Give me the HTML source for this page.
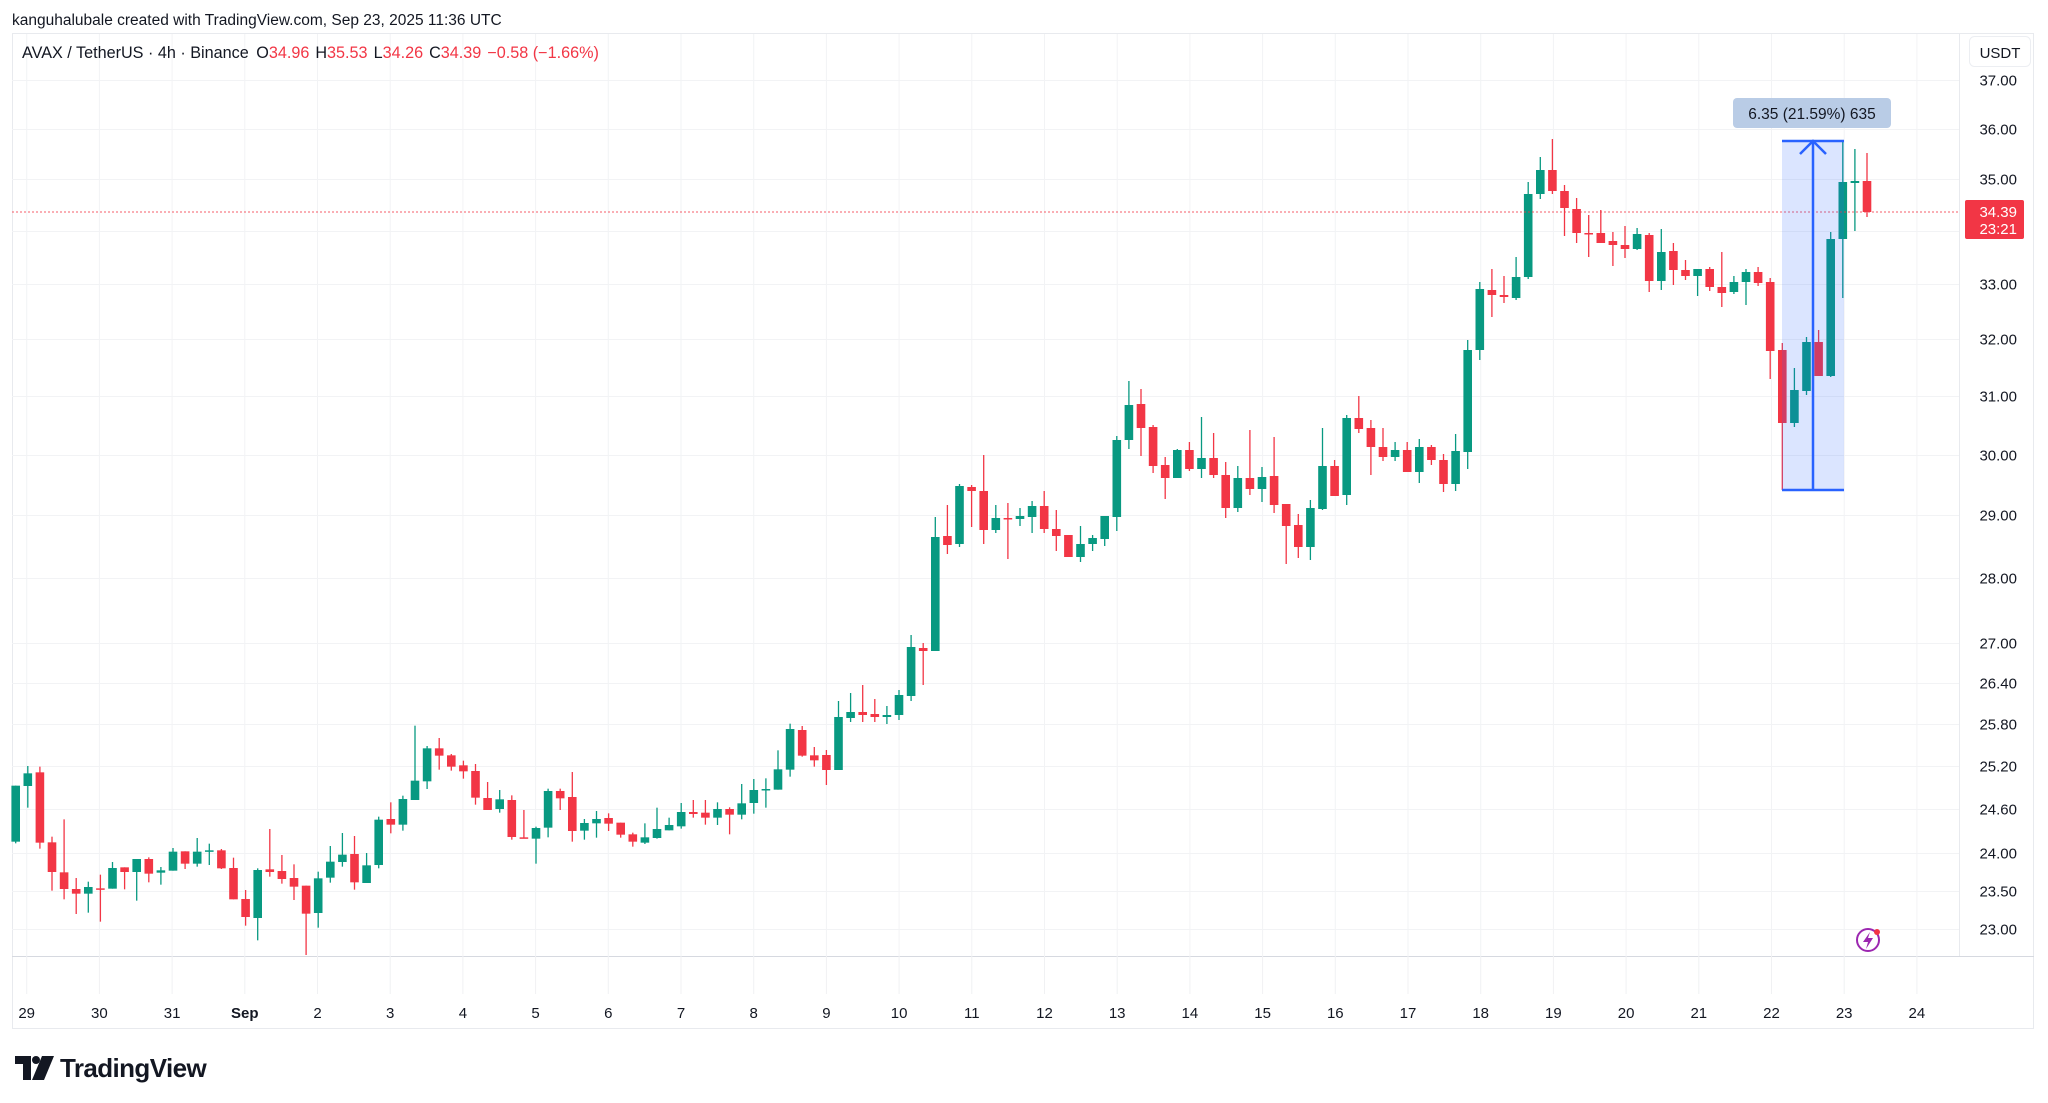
<!DOCTYPE html>
<html><head><meta charset="utf-8"><style>
html,body{margin:0;padding:0;background:#fff;}
body{width:2048px;height:1103px;overflow:hidden;font-family:"Liberation Sans",sans-serif;}
</style></head><body>
<svg id="s" width="2048" height="1103" xmlns="http://www.w3.org/2000/svg" style="position:absolute;left:0;top:0">
<text x="12" y="25" font-size="15.5" fill="#131722">kanguhalubale created with TradingView.com, Sep 23, 2025 11:36 UTC</text>
<rect x="12.5" y="33.5" width="2021" height="995" fill="none" stroke="#e8eaee"/>
<line x1="1959.5" y1="33" x2="1959.5" y2="956" stroke="#e8eaee"/>
<line x1="12" y1="956.5" x2="2034" y2="956.5" stroke="#d6d9e0"/>
<g id="grid"></g>
<g id="candles"></g>
<line x1="12" y1="212" x2="1959" y2="212" stroke="#f23645" stroke-width="1" stroke-dasharray="2,2" opacity="0.8"/>
<rect x="1782" y="141" width="62" height="349" fill="#2962ff" fill-opacity="0.17"/>
<line x1="1782" y1="141" x2="1844" y2="141" stroke="#2962ff" stroke-width="2.5"/>
<line x1="1782" y1="490" x2="1844" y2="490" stroke="#2962ff" stroke-width="2.5"/>
<line x1="1813" y1="490" x2="1813" y2="142" stroke="#2962ff" stroke-width="2.5"/>
<polyline points="1800,154 1813,141 1826,154" fill="none" stroke="#2962ff" stroke-width="2.5"/>
<rect x="1733" y="98" width="158" height="30" rx="4" fill="#b9cce6"/>
<text x="1812" y="119" font-size="15.5" fill="#131722" text-anchor="middle">6.35 (21.59%) 635</text>
<text x="22" y="58" font-size="16.2" fill="#131722">AVAX / TetherUS · 4h · Binance <tspan dx="3">O</tspan><tspan fill="#f23645">34.96</tspan><tspan dx="6">H</tspan><tspan fill="#f23645">35.53</tspan><tspan dx="6">L</tspan><tspan fill="#f23645">34.26</tspan><tspan dx="6">C</tspan><tspan fill="#f23645">34.39</tspan><tspan dx="6" fill="#f23645">−0.58 (−1.66%)</tspan></text>
<rect x="1969.5" y="36.5" width="61" height="30" rx="5" fill="#fff" stroke="#eceef2"/>
<text x="2000" y="58" font-size="15" fill="#131722" text-anchor="middle">USDT</text>
<g id="axis"></g>
<rect x="1965" y="200" width="59" height="39" rx="2" fill="#f23645"/>
<text x="2017" y="217" font-size="15" fill="#fff" text-anchor="end">34.39</text>
<text x="2017" y="234" font-size="15" fill="#fff" text-anchor="end">23:21</text>
<circle cx="1868" cy="940" r="11" fill="none" stroke="#9c27b0" stroke-width="2"/>
<path d="M1870 932 L1863 942 L1868 942 L1866 949 L1873 938 L1868 938 Z" fill="#9c27b0"/>
<circle cx="1877" cy="932" r="3" fill="#f23645"/>
<g transform="translate(15,1056)">
<path d="M0 0 H16 V24 H8 V8 H0 Z" fill="#131722"/>
<circle cx="21" cy="4" r="4" fill="#131722"/>
<path d="M27 0 H39 L29 24 H17 Z" fill="#131722"/>
</g>
<text x="60" y="1077" font-size="26" font-weight="bold" fill="#131722" letter-spacing="-0.6">TradingView</text>
</svg>
<script>
const NS="http://www.w3.org/2000/svg";
function el(p,t,a,txt){const e=document.createElementNS(NS,t);for(const k in a)e.setAttribute(k,a[k]);if(txt!==undefined)e.textContent=txt;p.appendChild(e);return e;}
const L37=Math.log(37),RNG=Math.log(37)-Math.log(23);
function py(p){return 80+(L37-Math.log(p))/RNG*849;}
const grid=document.getElementById('grid'),axis=document.getElementById('axis');
const prices=[37,36,35,34,33,32,31,30,29,28,27,26.4,25.8,25.2,24.6,24,23.5,23];
prices.forEach(p=>{const y=Math.round(py(p))+0.5;el(grid,'line',{x1:12,y1:y,x2:1959,y2:y,stroke:'#f2f3f5'});
 if(p!==34)el(axis,'text',{x:2017,y:y+5,'font-size':15,fill:'#131722','text-anchor':'end'},p.toFixed(2));});
const days=['29','30','31','Sep','2','3','4','5','6','7','8','9','10','11','12','13','14','15','16','17','18','19','20','21','22','23','24'];
days.forEach((d,i)=>{const x=26.7+72.7*i;el(grid,'line',{x1:x,y1:34,x2:x,y2:956,stroke:'#f2f3f5'});
 el(grid,'line',{x1:x,y1:956,x2:x,y2:994,stroke:'#f0f1f3'});
 el(axis,'text',{x:x,y:1018,'font-size':15,fill:'#131722','text-anchor':'middle','font-weight':d==='Sep'?'bold':'normal'},d);});
const A=[['g',257,425,257,430],['g',220,258,198,323],['r',217,428,200,446],['r',427,516,410,572],['r',517,567,358,598],['r',567,581,534,642],['g',561,581,545,638],['r',565,567,524,665],['g',504,566,486,566],['r',502,516,502,568],['g',477,516,477,602],['r',477,521,472,547],['g',511,518,501,554],['g',455,512,444,512],['r',454,491,454,507],['g',455,491,414,500],['g',451,455,431,495],['r',451,505,447,507],['r',504,598,473,598],['r',597,651,570,677],['g',510,654,505,721],['r',508,516,387,530],['r',513,537,465,551],['r',534,560,493,600],['r',557,641,557,765],['g',535,639,515,683],['g',485,533,438,548],['g',464,486,399,500],['r',462,547,408,569],['g',496,549,459,549],['g',359,495,350,505],['r',357,374,307,400],['g',297,374,287,392]];
const B=[['g',302,360,137,360],['g',205,304,198,327],['r',205,227,174,269],['r',226,260,222,272],['r',256,274,242,296],['r',273,353,252,374],['r',354,390,306,390],['g',358,387,330,398],['r',360,471,346,479],['r',472,474,390,474],['g',444,476,440,551],['g',333,443,326,472],['r',333,355,326,390],['r',351,453,276,485],['g',429,452,417,479],['g',417,430,393,473],['r',414,431,400,453],['r',428,464,428,473],['r',463,485,458,500],['g',472,488,430,492],['g',447,474,383,476],['g',435,451,413,451],['g',396,439,369,446],['r',396,402,360,413],['r',398,413,360,434],['g',387,413,367,435],['r',387,404,382,463],['g',370,404,312,418],['g',330,369,297,401],['g',327,329,295,383],['g',268,329,211,329],['g',147,269,131,290],['r',150,227,138,230],['r',226,241,201,260]];
const C=[['r',755,770,750,785],['g',717,770,701,770],['g',712,718,693,722],['r',712,715,685,722],['r',714,717,699,722],['g',715,717,706,724],['g',695,715,690,720],['g',647,696,635,701],['r',648,651,643,685],['g',537,651,517,651],['r',536,545,505,554],['g',486,544,484,547],['r',487,491,485,527],['r',491,530,455,544],['g',518,530,505,533],['r',518,519,503,559],['g',516,519,508,526],['g',506,517,501,533],['r',506,529,491,533],['r',529,536,510,551],['r',535,557,535,557],['g',544,557,526,562],['g',538,544,535,551],['g',516,539,516,546],['g',440,517,436,531],['g',405,440,381,449],['r',404,428,389,456],['r',427,466,425,473],['r',465,478,457,499],['g',450,478,449,478],['r',450,469,442,471],['g',458,469,417,478],['r',458,475,433,478],['r',475,508,462,518],
['g',478,508,466,512],['r',478,489,430,495],['g',477,489,467,502],['r',476,505,437,513],['r',504,526,504,564],['r',525,547,514,558],['g',508,547,500,560],['g',466,509,428,510],['r',466,496,460,496],['g',418,495,415,505],['r',418,429,396,433],['r',428,447,420,475],['r',447,457,428,461],['g',450,457,442,461],['r',450,472,442,472],['g',447,472,439,483],['r',447,460,445,465],['r',460,484,454,492],['g',451,484,434,491],
['g',350,452,340,469],['g',289,350,282,360],['r',290,295,269,317],['r',295,297,276,303],['g',277,298,257,300],['g',194,277,182,279],['g',170,194,157,199],['r',170,191,139,194],['r',191,208,185,236],['r',209,233,198,243],['r',233,234,215,257],['r',233,243,210,243],['r',241,245,232,266],['r',245,249,226,258],['g',234,249,228,250],['r',235,281,233,292],['g',252,281,229,290],['r',251,270,243,285],['r',270,276,260,280],['g',269,276,269,296],['r',269,287,267,291],['r',287,293,252,307],['g',282,292,276,294],['g',272,282,269,305],['r',272,283,267,286],['r',282,351,278,379],['r',350,423,343,490],['g',390,423,368,427],['g',342,391,337,395],['r',342,376,330,376],['g',239,376,232,377],['g',182,239,141,298],['g',181,183,149,231],['r',181,212,153,217]];
const all=[];
A.forEach(c=>all.push([c[0],700+c[1]/3,700+c[2]/3,700+c[3]/3,700+c[4]/3]));
B.forEach(c=>all.push([c[0],680+c[1]/3,680+c[2]/3,680+c[3]/3,680+c[4]/3]));
C.forEach(c=>all.push(c));
const cg=document.getElementById('candles');
all.forEach((c,i)=>{const x=15.7+12.1*i;const col=c[0]==='g'?'#089981':'#f23645';
 el(cg,'line',{x1:x,y1:c[3],x2:x,y2:c[4],stroke:col,'stroke-width':1.3});
 const h=Math.max(1.5,c[2]-c[1]);el(cg,'rect',{x:x-4.3,y:c[1],width:8.6,height:h,fill:col});});
</script>
</body></html>
